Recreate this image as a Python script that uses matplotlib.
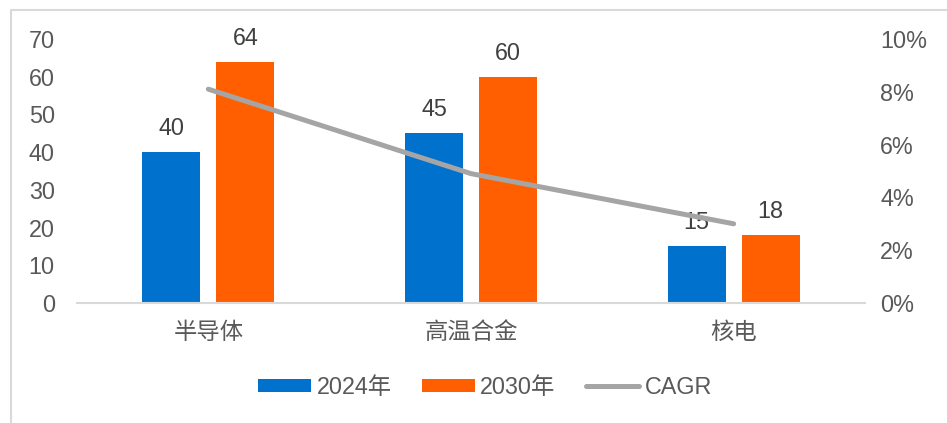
import numpy as np
import matplotlib.pyplot as plt
from matplotlib.lines import Line2D

# ---------------------- Data ---------------------- #
categories = ["半导体", "高温合金", "核电"]
values_2024 = [40, 45, 15]
values_2030 = [64, 60, 18]
cagr = [0.081, 0.049, 0.030]
left_ticks = [0, 10, 20, 30, 40, 50, 60, 70]
right_ticks = [0.0, 0.02, 0.04, 0.06, 0.08, 0.10]

BLUE = "#0072CE"
ORANGE = "#FF5F00"
GRAY = "#A5A5A5"
TEXT = "#595959"
LABEL = "#404040"
FS = 16.8

plt.rcParams["font.family"] = ["Liberation Sans", "Noto Sans CJK SC"]

fig = plt.figure(figsize=(9.47, 4.23), dpi=100)
ax = fig.add_axes([77 / 947, 120 / 423, 788 / 947, 264 / 423])
ax2 = ax.twinx()

x = np.arange(len(categories))
width = 0.22
offset = 0.141

b1 = ax.bar(x - offset, values_2024, width, color=BLUE, label="2024年", zorder=2)
b2 = ax.bar(x + offset, values_2030, width, color=ORANGE, label="2030年", zorder=2)

for bars, vals in ((b1, values_2024), (b2, values_2030)):
    for rect, v in zip(bars, vals):
        ax.annotate(f"{v}", (rect.get_x() + rect.get_width() / 2, v),
                    xytext=(0, 17), textcoords="offset points",
                    ha="center", va="center", fontsize=FS, color=LABEL)

ax2.plot(x, cagr, color=GRAY, linewidth=3.6, solid_capstyle="round",
         label="CAGR", zorder=3)

ax.set_xlim(-0.5, 2.5)
ax.set_ylim(0, 70)
ax.set_yticks(left_ticks)
ax.set_xticks(x)
ax.set_xticklabels(categories, fontsize=FS, color=TEXT)
ax.tick_params(axis="y", length=0, pad=16, labelsize=FS, labelcolor=TEXT)
ax.tick_params(axis="x", length=0, pad=13)

ax2.set_ylim(0, 0.10)
ax2.set_yticks(right_ticks)
ax2.set_yticklabels([f"{int(round(t * 100))}%" for t in right_ticks])
ax2.tick_params(axis="y", length=0, pad=11, labelsize=FS, labelcolor=TEXT)

for a in (ax, ax2):
    for side in ("top", "left", "right", "bottom"):
        a.spines[side].set_visible(False)
ax.spines["bottom"].set_visible(True)
ax.spines["bottom"].set_color("#D9D9D9")
ax.spines["bottom"].set_linewidth(1.5)

handles = [b1, b2, Line2D([], [], color=GRAY, linewidth=3.6, solid_capstyle="round")]
fig.legend(handles, ["2024年", "2030年", "CAGR"], loc="center",
           bbox_to_anchor=(485 / 947, 1 - 387 / 423), ncol=3, frameon=False,
           fontsize=FS, labelcolor=TEXT, handlelength=2.25, handleheight=0.5,
           handletextpad=0.25, columnspacing=1.3)

# outer chart frame
frame = Line2D([11 / 947, 11 / 947, 1.0], [0.0, 1 - 10 / 423, 1 - 10 / 423],
               transform=fig.transFigure, color="#D9D9D9", linewidth=1.5)
fig.add_artist(frame)

fig.savefig("out.png", dpi=100)
